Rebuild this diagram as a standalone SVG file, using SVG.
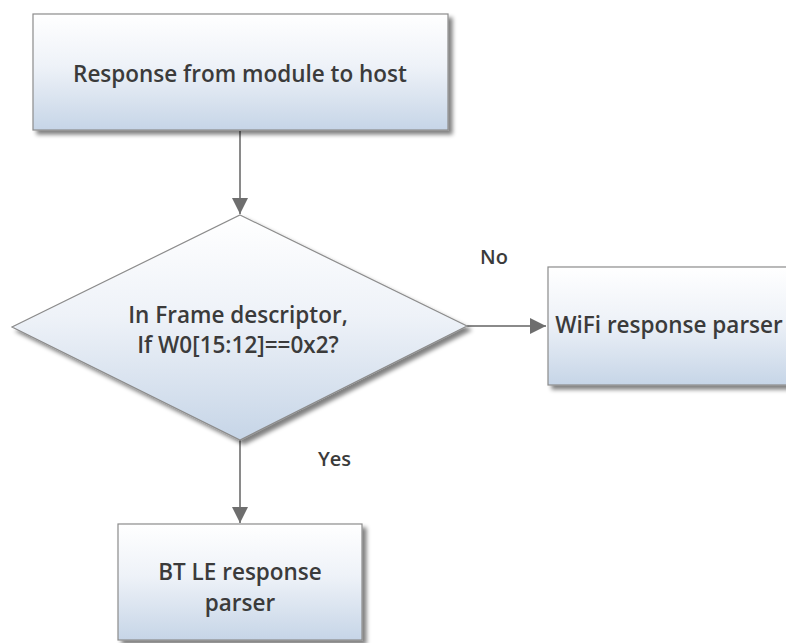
<svg xmlns="http://www.w3.org/2000/svg" width="786" height="643" viewBox="0 0 786 643">
<defs>
<linearGradient id="g" x1="0" y1="0" x2="0" y2="1">
<stop offset="0" stop-color="#ffffff"/>
<stop offset="0.45" stop-color="#eef2f8"/>
<stop offset="1" stop-color="#c6d5e7"/>
</linearGradient>
<filter id="sh" x="-10%" y="-10%" width="130%" height="130%">
<feGaussianBlur in="SourceAlpha" stdDeviation="2"/>
<feOffset dx="4" dy="4" result="b"/>
<feComponentTransfer><feFuncA type="linear" slope="0.5"/></feComponentTransfer>
<feMerge><feMergeNode/><feMergeNode in="SourceGraphic"/></feMerge>
</filter>
<marker id="ah" viewBox="0 0 10 10" refX="10" refY="5" markerWidth="18" markerHeight="16" markerUnits="userSpaceOnUse" orient="auto">
<path d="M0,0 L10,5 L0,10 Z" fill="#6e6e6e"/>
</marker>
</defs>
<style>
.box{fill:url(#g);stroke:#8c8c8c;stroke-width:1.2;filter:url(#sh)}
.t{font-family:"Open Sans","Liberation Sans",sans-serif;font-weight:600;fill:#3b3b3b;text-anchor:middle;font-size:22.5px}
.lbl{font-family:"Open Sans","Liberation Sans",sans-serif;font-weight:600;fill:#3b3b3b;font-size:20px}
.c{stroke:#8a8a8a;stroke-width:2;fill:none;marker-end:url(#ah)}
</style>
<rect width="786" height="643" fill="#ffffff"/>
<g id="connectors">
<line class="c" x1="240" y1="131" x2="240" y2="214"/>
<line class="c" x1="467" y1="326" x2="546" y2="326"/>
<line class="c" x1="240" y1="440" x2="240" y2="523"/>
</g>
<g id="start">
<rect class="box" x="33" y="14" width="415" height="116"/>
<text class="t" x="240" y="82">Response from module to host</text>
</g>
<g id="decision">
<polygon class="box" points="240,215 467,326 240,440 12,327"/>
<text class="t" x="238" y="323">In Frame descriptor,</text>
<text class="t" x="238" y="353">If W0[15:12]==0x2?</text>
</g>
<g id="wifi">
<rect class="box" x="548" y="267" width="240" height="118"/>
<text class="t" x="669" y="333">WiFi response parser</text>
</g>
<g id="btle">
<rect class="box" x="118" y="524" width="244" height="116"/>
<text class="t" x="240" y="580">BT LE response</text>
<text class="t" x="240" y="611">parser</text>
</g>
<g id="labels">
<text class="lbl" x="480" y="264">No</text>
<text class="lbl" x="318" y="466">Yes</text>
</g>
</svg>
